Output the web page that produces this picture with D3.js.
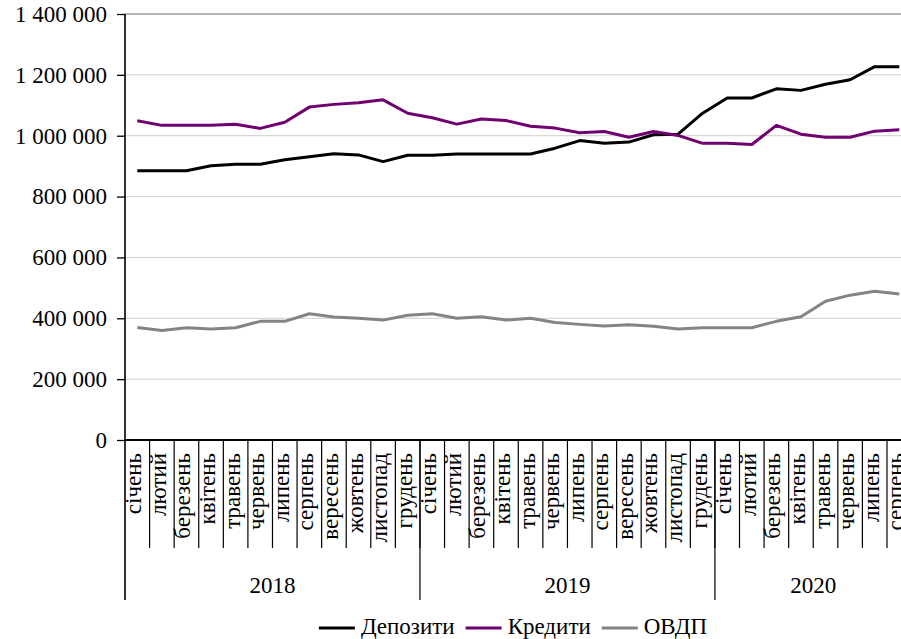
<!DOCTYPE html>
<html>
<head>
<meta charset="utf-8">
<script src="https://cdn.jsdelivr.net/npm/d3@7"></script>
<style>
  html, body { margin: 0; padding: 0; background: #fff; }
  svg { display: block; }
  text { font-family: "Liberation Serif", "Times New Roman", Times, serif; fill: #000; }
</style>
</head>
<body>
<svg id="chart" width="901" height="639"></svg>
<script>
// Months and years along the two-level category axis
const months = ["січень", "лютий", "березень", "квітень", "травень", "червень",
                "липень", "серпень", "вересень", "жовтень", "листопад", "грудень"];
const years = ["2018", "2019", "2020"];
const monthsPerYear = [12, 12, 8];

// Monthly balances
const deposits = [885000, 885000, 885000, 901000, 906000, 906000, 921000, 931000, 941000, 937000, 915000, 936000,
                  936000, 940000, 940000, 940000, 940000, 959000, 984000, 975000, 979000, 1003000, 1005000, 1074000,
                  1124000, 1124000, 1154000, 1149000, 1169000, 1184000, 1227000, 1227000];
const loans = [1049000, 1034000, 1034000, 1034000, 1038000, 1024000, 1044000, 1094000, 1103000, 1108000, 1118000, 1074000,
               1059000, 1038000, 1055000, 1050000, 1031000, 1025000, 1010000, 1014000, 995000, 1014000, 1001000, 975000,
               975000, 971000, 1034000, 1005000, 995000, 995000, 1015000, 1020000];
const bonds = [370000, 360000, 369000, 365000, 369000, 390000, 390000, 415000, 404000, 400000, 394000, 410000,
               415000, 400000, 405000, 394000, 400000, 386000, 380000, 375000, 379000, 374000, 365000, 369000,
               369000, 369000, 390000, 405000, 456000, 476000, 489000, 480000];

const seriesNames = ["Депозити", "Кредити", "ОВДП"];
const seriesColors = ["#000000", "#700070", "#848484"];
const yTicks = [0, 200000, 400000, 600000, 800000, 1000000, 1200000, 1400000];

// Category list built from the month/year arrays
const categories = [];
years.forEach((yr, yi) => {
  for (let m = 0; m < monthsPerYear[yi]; m++) categories.push({ year: yr, month: months[m] });
});
const series = [deposits, loans, bonds];

const svg = d3.select("#chart");
const plotLeft = 125, plotTop = 14, plotBottom = 440;
const step = 24.58;
const serif = "'Liberation Serif', 'Times New Roman', Times, serif";

const x = d3.scaleBand()
  .domain(d3.range(categories.length))
  .range([plotLeft, plotLeft + step * categories.length])
  .padding(0);
const bw = x.bandwidth();
const cx = i => x(i) + bw / 2;

const y = d3.scaleLinear().domain([0, 1400000]).range([plotBottom, plotTop]);

const locale = d3.formatLocale({ decimal: ",", thousands: "\u00a0", grouping: [3], currency: ["", ""] });
const fmt = locale.format(",");

// Horizontal gridlines
svg.append("g")
  .selectAll("line")
  .data(yTicks.filter(t => t > 0 && t < 1400000))
  .join("line")
  .attr("x1", plotLeft).attr("x2", 901)
  .attr("y1", d => y(d)).attr("y2", d => y(d))
  .attr("stroke", "#cfcfcf").attr("stroke-width", 1);

// Plot area top border
svg.append("line")
  .attr("x1", plotLeft).attr("x2", 901)
  .attr("y1", y(1400000)).attr("y2", y(1400000))
  .attr("stroke", "#9a9a9a").attr("stroke-width", 1.6);

// Value axis
const yAxis = svg.append("g")
  .attr("transform", `translate(${plotLeft},0)`)
  .call(d3.axisLeft(y).tickValues(yTicks).tickFormat(fmt).tickSize(8).tickPadding(10));
yAxis.attr("font-family", serif);
yAxis.select(".domain").remove();
yAxis.selectAll(".tick line").attr("stroke", "#000").attr("stroke-width", 1.3);
yAxis.selectAll(".tick text")
  .attr("font-size", 23)
  .style("font-family", serif)
  .attr("fill", "#000");

// Vertical axis line, extended down through the category labels
svg.append("line")
  .attr("x1", plotLeft).attr("x2", plotLeft)
  .attr("y1", plotTop).attr("y2", 600)
  .attr("stroke", "#000").attr("stroke-width", 1.6);

// Category axis baseline
svg.append("line")
  .attr("x1", plotLeft).attr("x2", 901)
  .attr("y1", plotBottom).attr("y2", plotBottom)
  .attr("stroke", "#000").attr("stroke-width", 1.8);

// Month separators
svg.append("g")
  .selectAll("line")
  .data(d3.range(1, categories.length + 1))
  .join("line")
  .attr("x1", d => x(d - 1) + bw).attr("x2", d => x(d - 1) + bw)
  .attr("y1", plotBottom).attr("y2", 548)
  .attr("stroke", "#000").attr("stroke-width", 1.2);

// Year separators
let acc = 0;
const yearBounds = [];
monthsPerYear.forEach((n, yi) => {
  yearBounds.push({ year: years[yi], start: acc, end: acc + n });
  acc += n;
});
svg.append("g")
  .selectAll("line")
  .data(yearBounds.slice(1))
  .join("line")
  .attr("x1", d => x(d.start)).attr("x2", d => x(d.start))
  .attr("y1", plotBottom).attr("y2", 600)
  .attr("stroke", "#000").attr("stroke-width", 1.2);

// Month labels (vertical)
svg.append("g")
  .selectAll("text")
  .data(categories)
  .join("text")
  .attr("transform", (d, i) => `translate(${cx(i) + 4},453) rotate(-90)`)
  .attr("text-anchor", "end")
  .attr("font-size", 23)
  .text(d => d.month);

// Year labels
svg.append("g")
  .selectAll("text")
  .data(yearBounds)
  .join("text")
  .attr("x", d => (x(d.start) + x(d.end - 1) + bw) / 2)
  .attr("y", 593)
  .attr("text-anchor", "middle")
  .attr("font-size", 23)
  .text(d => d.year);

// Series lines
const line = d3.line().x((d, i) => cx(i)).y(d => y(d));
svg.append("g")
  .selectAll("path")
  .data(series)
  .join("path")
  .attr("d", d => line(d))
  .attr("fill", "none")
  .attr("stroke", (d, i) => seriesColors[i])
  .attr("stroke-width", 3)
  .attr("stroke-linejoin", "round");

// Legend
const legend = svg.append("g");
let lx = 0;
seriesNames.forEach((name, i) => {
  const g = legend.append("g").attr("transform", `translate(${lx},0)`);
  g.append("line")
    .attr("x1", 0).attr("x2", 36)
    .attr("y1", 628).attr("y2", 628)
    .attr("stroke", seriesColors[i]).attr("stroke-width", 3);
  const t = g.append("text")
    .attr("x", 42).attr("y", 634)
    .attr("font-size", 23)
    .text(name);
  lx += 42 + t.node().getComputedTextLength() + 11;
});
const lw = lx - 11;
legend.attr("transform", `translate(${513 - lw / 2},0)`);
</script>
</body>
</html>
